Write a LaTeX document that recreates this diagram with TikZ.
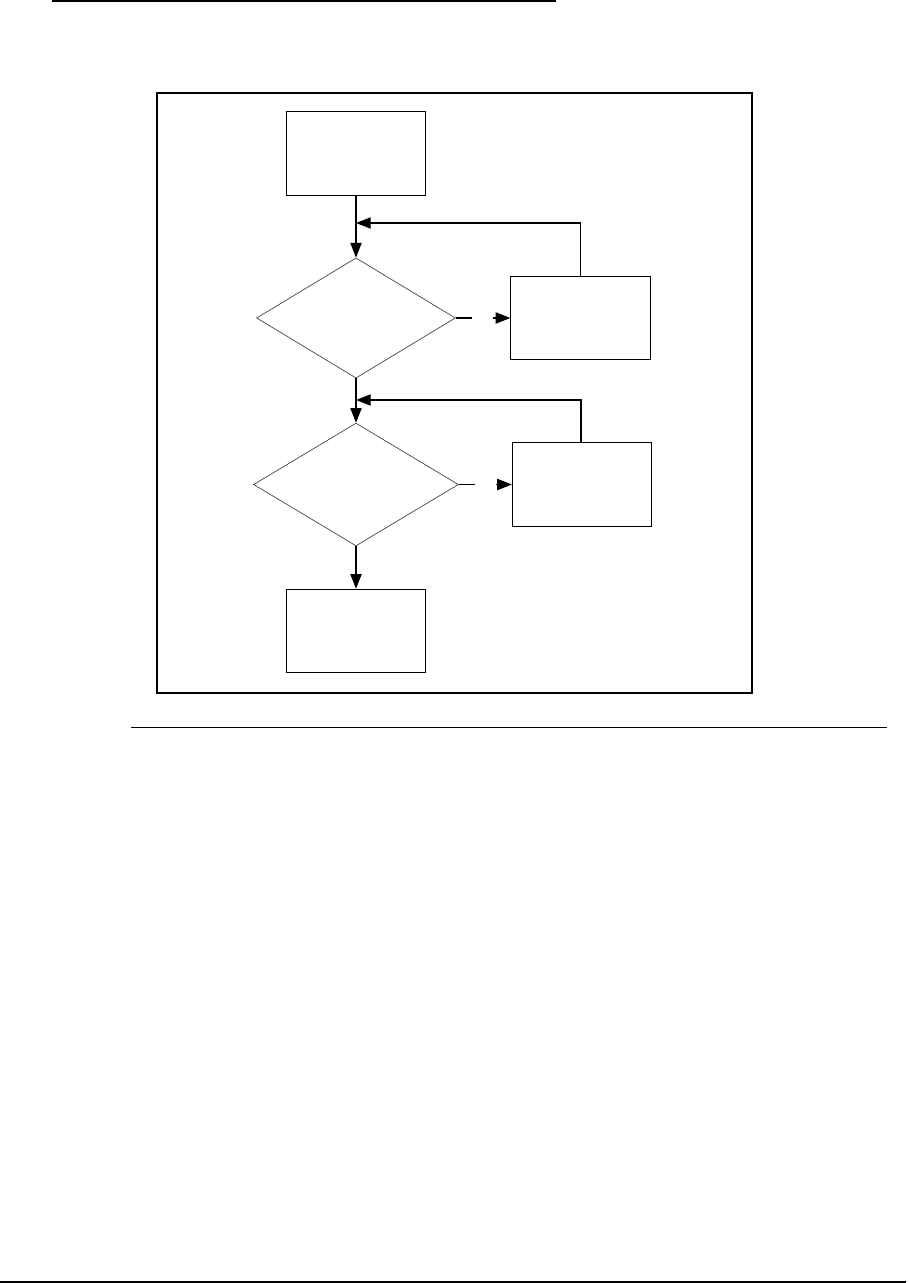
\documentclass[tikz,border=0pt]{standalone}
\usetikzlibrary{arrows.meta, shapes.geometric}
\tikzset{
  box/.style={draw, rectangle, minimum width=32.2mm, minimum height=19.3mm, inner sep=0pt, line width=0.7pt},
  decision/.style={draw=black!75, diamond, inner sep=0pt, line width=0.45pt},
  arrow/.style={-{Triangle[length=3.4mm, width=2.6mm]}, line width=0.75pt},
  gap/.style={dash pattern=on 3.8mm off 4.8mm on 12mm},
  pagerule/.style={line width=#1},
}

\begin{document}
\begin{tikzpicture}[x=0.2313mm, y=-0.2313mm]
  \useasboundingbox (0,0) rectangle (908,1283);
  % page rules and frame
  \draw[pagerule=1.3pt] (52,1) -- (556,1);
  \draw[pagerule=0.7pt] (131,727.5) -- (887,727.5);
  \draw[pagerule=1.3pt] (0,1281.5) -- (906,1281.5);
  \draw[line width=1.5pt] (157,93) rectangle (752,693);
  % flow chart
  \node[box] (start) at (356,153.5) {};
  \node[decision, minimum width=46mm, minimum height=27.8mm] (check1) at (356,318) {};
  \node[box] (fix1) at (580.5,318) {};
  \node[decision, minimum width=47.4mm, minimum height=28.4mm] (check2) at (356,484.5) {};
  \node[box] (fix2) at (582,484.5) {};
  \node[box] (stop) at (356,631) {};
  \coordinate (join1) at (356,223);
  \coordinate (join2) at (356,400);
  \draw[arrow] (start) -- (check1);
  \draw[arrow] (fix1.north) |- (join1);
  \draw[arrow, gap] (check1) -- (fix1);
  \draw[arrow] (check1) -- (check2);
  \draw[arrow] (fix2.north -| 581,0) |- (join2);
  \draw[arrow, gap] (check2) -- (fix2);
  \draw[arrow] (check2) -- (stop);
\end{tikzpicture}
\end{document}
